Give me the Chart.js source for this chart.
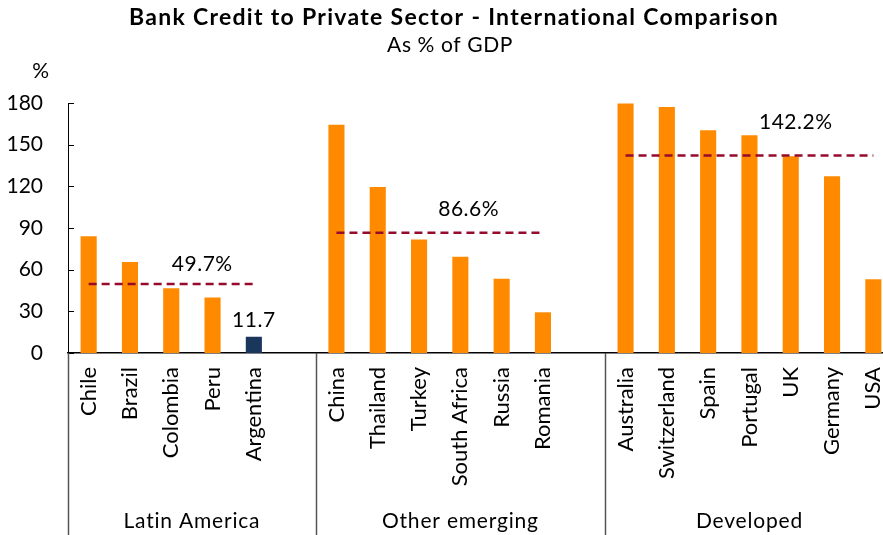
<!DOCTYPE html>
<html lang="en">
<head>
  <meta charset="UTF-8" />
  <title>Bank Credit to Private Sector - International Comparison</title>
  <script src="https://cdn.jsdelivr.net/npm/chart.js"></script>
  <style>
    html, body {
      margin: 0;
      padding: 0;
      background: #fff;
      overflow: hidden;
    }
    .chart-container {
      width: 894px;
      height: 535px;
      position: relative;
    }
  </style>
</head>
<body>
  <div class="chart-container"><canvas id="chart"></canvas></div>

  <script>
    // === Data ===
    const latinAmerica = ["Chile", "Brazil", "Colombia", "Peru", "Argentina"];
    const latinValues = [84.0, 65.5, 46.6, 39.9, 11.7];
    const otherEmerging = ["China", "Thailand", "Turkey", "South Africa", "Russia", "Romania"];
    const otherValues = [164.4, 119.5, 81.8, 69.3, 53.5, 29.3];
    const developed = ["Australia", "Switzerland", "Spain", "Portugal", "UK", "Germany", "USA"];
    const developedValues = [179.6, 177.1, 160.3, 156.7, 141.6, 127.2, 53.1];
    const groupNames = ["Latin America", "Other emerging", "Developed"];
    const groupAverages = [49.7, 86.6, 142.2];
    const yTicks = [0, 30, 60, 90, 120, 150, 180];
    const highlighted = "Argentina";

    // build category list with an empty slot between groups
    const groups = [
      { names: latinAmerica, values: latinValues },
      { names: otherEmerging, values: otherValues },
      { names: developed, values: developedValues }
    ];
    const labels = [];
    const barData = [];
    const avgData = [];
    const groupStart = [];
    groups.forEach((g, gi) => {
      groupStart.push(labels.length);
      g.names.forEach((n, i) => {
        labels.push(n);
        barData.push(g.values[i]);
        avgData.push(groupAverages[gi]);
      });
      if (gi < groups.length - 1) {
        labels.push("");
        barData.push(null);
        avgData.push(null);
      }
    });

    const FONT = "Lato, 'Open Sans', sans-serif";
    const ORANGE = "#FF8A00";
    const NAVY = "#1B365D";

    const decor = {
      id: "decor",
      afterDraw(chart) {
        const ctx = chart.ctx;
        const x = chart.scales.x;
        const y = chart.scales.y;
        const area = chart.chartArea;
        const slot = (area.right - area.left) / labels.length;
        ctx.save();

        // titles
        ctx.fillStyle = "#000";
        ctx.textAlign = "center";
        ctx.textBaseline = "middle";
        ctx.font = "bold 23px " + FONT;
        ctx.letterSpacing = "1.3px";
        ctx.fillText("Bank Credit to Private Sector - International Comparison", 454, 18);
        ctx.font = "21px " + FONT;
        ctx.letterSpacing = "0.6px";
        ctx.fillText("As % of GDP", 450, 45);
        ctx.fillText("%", 41, 71);

        // inner y ticks
        ctx.strokeStyle = "#000";
        ctx.lineWidth = 1;
        yTicks.forEach(v => {
          const py = Math.round(y.getPixelForValue(v)) + 0.5;
          ctx.beginPath();
          ctx.moveTo(area.left, py);
          ctx.lineTo(area.left + 6, py);
          ctx.stroke();
        });

        // group separators below the axis
        ctx.strokeStyle = "#555";
        ctx.lineWidth = 1.5;
        for (let gi = 0; gi < groups.length; gi++) {
          const sx = Math.round(area.left + groupStart[gi] * slot) + 0.5;
          ctx.beginPath();
          ctx.moveTo(sx, area.bottom);
          ctx.lineTo(sx, chart.height);
          ctx.stroke();
        }

        // group names
        ctx.fillStyle = "#000";
        ctx.font = "21px " + FONT;
        ctx.letterSpacing = "0.8px";
        groups.forEach((g, gi) => {
          const span = g.names.length + (gi < groups.length - 1 ? 1 : 0);
          const x0 = area.left + groupStart[gi] * slot;
          const x1 = area.left + (groupStart[gi] + span) * slot;
          ctx.fillText(groupNames[gi], (x0 + x1) / 2, 521);
        });

        // average labels
        const labelPos = [[2.75, -20], [3.2, -23], [4.12, -33]];
        ctx.font = "21px " + FONT;
        ctx.letterSpacing = "0.5px";
        groupAverages.forEach((a, gi) => {
          const px = x.getPixelForValue(groupStart[gi]) + labelPos[gi][0] * slot;
          const py = y.getPixelForValue(a) + labelPos[gi][1];
          ctx.fillText(a.toFixed(1) + "%", px, py);
        });

        // highlighted bar value
        const hi = labels.indexOf(highlighted);
        ctx.textBaseline = "bottom";
        ctx.fillText(barData[hi].toFixed(1), x.getPixelForValue(hi), y.getPixelForValue(barData[hi]) - 6);

        ctx.restore();
      }
    };

    new Chart(document.getElementById("chart"), {
      type: "bar",
      data: {
        labels: labels,
        datasets: [
          {
            type: "line",
            label: "Average",
            data: avgData,
            borderColor: "#960A2C",
            borderWidth: 2.5,
            borderDash: [8, 5],
            pointRadius: 0,
            fill: false,
            spanGaps: false,
            order: 0
          },
          {
            label: "Bank credit",
            data: barData,
            backgroundColor: labels.map(l => l === highlighted ? NAVY : ORANGE),
            borderWidth: 0,
            barPercentage: 0.39,
            categoryPercentage: 1,
            order: 1
          }
        ]
      },
      options: {
        responsive: true,
        maintainAspectRatio: false,
        animation: false,
        layout: { padding: { top: 103, left: 0, right: 0, bottom: 0 } },
        plugins: {
          legend: { display: false },
          tooltip: { enabled: false }
        },
        scales: {
          x: {
            grid: { display: false, drawTicks: false },
            border: { display: true, color: "#000", width: 1.5 },
            ticks: {
              autoSkip: false,
              minRotation: 90,
              maxRotation: 90,
              padding: 14,
              color: "#000",
              font: { family: FONT, size: 22 }
            },
            afterFit(scale) {
              scale.height = 182;
              scale.paddingLeft = 0;
              scale.paddingRight = 0;
            }
          },
          y: {
            min: 0,
            max: 180,
            afterBuildTicks(scale) { scale.ticks = yTicks.map(v => ({ value: v })); },
            grid: { display: false, drawTicks: false },
            border: { display: true, color: "#000", width: 1 },
            ticks: {
              padding: 25,
              color: "#000",
              font: { family: FONT, size: 21 }
            },
            afterFit(scale) { scale.width = 68; }
          }
        }
      },
      plugins: [decor]
    });
  </script>
</body>
</html>
